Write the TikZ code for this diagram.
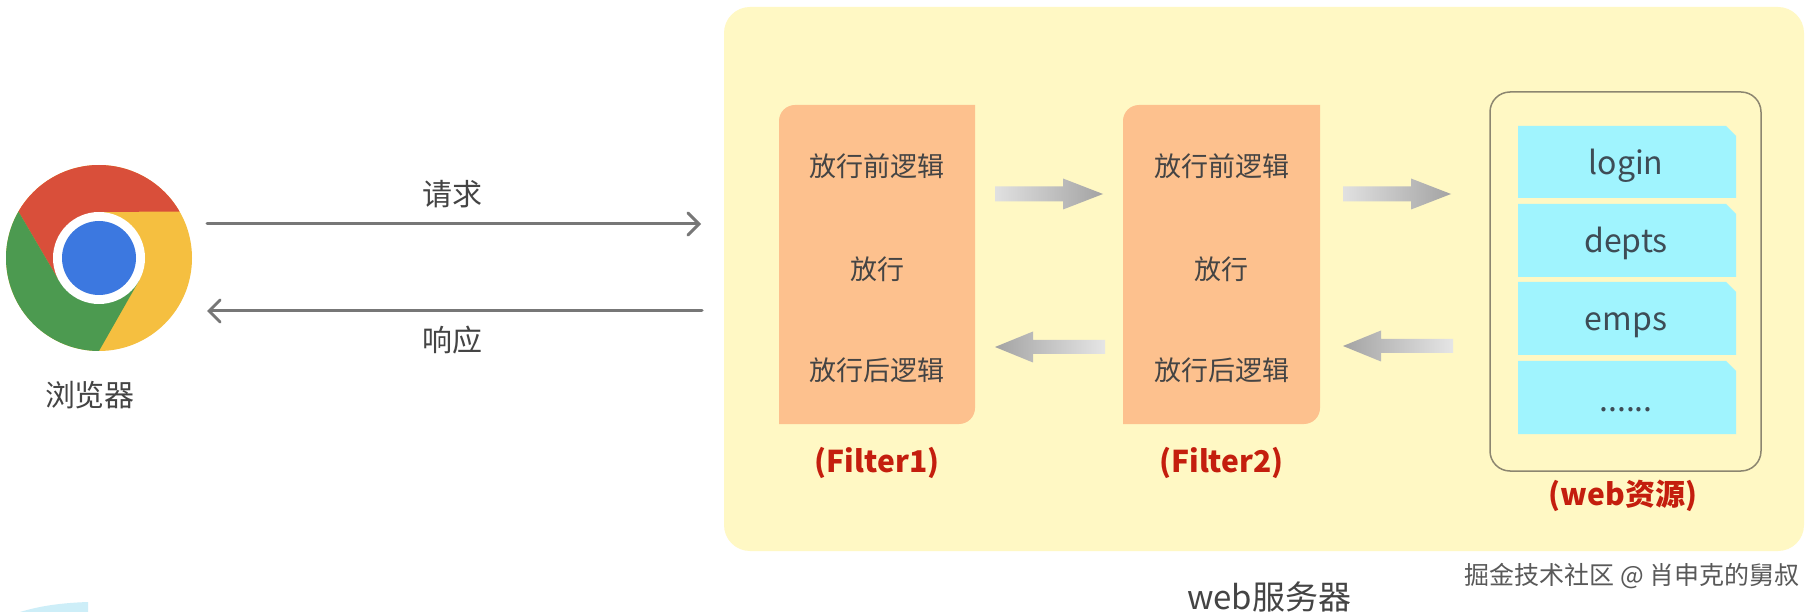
\documentclass[tikz,border=0pt]{standalone}
\usepackage{fontspec}
\setmainfont{Noto Sans CJK SC}
\usetikzlibrary{arrows.meta}
\definecolor{bgyellow}{HTML}{FFF8C4}
\definecolor{peach}{HTML}{FDC18E}
\definecolor{cyanbox}{HTML}{A0F4FE}
\definecolor{txtgray}{HTML}{444444}
\definecolor{resgray}{HTML}{3E4C56}
\definecolor{fred}{HTML}{C41E0E}
\definecolor{outl}{HTML}{8C8670}
\definecolor{chred}{HTML}{D94F3A}
\definecolor{chyellow}{HTML}{F5BF40}
\definecolor{chgreen}{HTML}{4C9A50}
\definecolor{chblue}{HTML}{3C78E0}
\definecolor{blob}{HTML}{CDEEF8}
\definecolor{linegray}{HTML}{777777}
\begin{document}
\begin{tikzpicture}[x=1pt,y=-1pt,
  lbl/.style={font=\fontsize{28}{32}\selectfont, text=txtgray, inner sep=0pt},
  flbl/.style={font=\fontsize{27}{30}\selectfont, text=txtgray, inner sep=0pt},
  rlbl/.style={font=\fontsize{32}{36}\selectfont, text=resgray, inner sep=0pt, anchor=base},
  redlbl/.style={font=\bfseries\fontsize{30}{34}\selectfont, text=fred, inner sep=0pt},
  thinarrow/.style={draw=linegray, line width=3pt, line cap=round, -{Straight Barb[length=11pt,width=22pt,line cap=round]}},
  fatR/.pic={\shade[left color=black!12, right color=black!36] (0,-7.5) -- (68,-7.5) -- (68,-15.5) -- (108,0) -- (68,15.5) -- (68,7.5) -- (0,7.5) -- cycle;},
  fatL/.pic={\shade[left color=black!36, right color=black!10] (0,0) -- (38,-15.5) -- (38,-7) -- (110,-7) -- (110,7) -- (38,7) -- (38,15.5) -- cycle;},
]
\useasboundingbox (0,0) rectangle (1816,612);
\fill[white] (0,0) rectangle (1816,612);

% web server background
\node[fill=bgyellow, rounded corners=26pt, minimum width=1080pt, minimum height=544pt, inner sep=0pt] (server) at (1264,279) {};

% Chrome logo
\coordinate (chc) at (99,258);
\fill[chyellow] (chc) circle[radius=93];
\fill[chred] (chc) -- (99,212) -- (179.54,211.5) arc[start angle=-30, end angle=-150, radius=93] -- (59.16,281) -- cycle;
\fill[chgreen] (chc) -- (59.16,281) -- (18.46,211.5) arc[start angle=210, end angle=90, radius=93] -- (138.84,281) -- cycle;
\fill[white] (chc) circle[radius=46];
\fill[chblue] (chc) circle[radius=37];
\node[lbl, font=\fontsize{30}{34}\selectfont] (browser) at (90,395) {浏览器};

% request / response
\coordinate (reqS) at (207,224);
\coordinate (reqE) at (701,224);
\coordinate (resS) at (702,311);
\coordinate (resE) at (207,311);
\draw[thinarrow] (reqS) -- (reqE);
\draw[thinarrow] (resS) -- (resE);
\node[lbl, font=\fontsize{30}{34}\selectfont] (req) at (452,194) {请求};
\node[lbl, font=\fontsize{30}{34}\selectfont] (res) at (452,340) {响应};

% filter boxes
\foreach \xa/\xb in {779/975, 1123/1320}{
  \fill[peach] (\xa,424) -- (\xa,121) arc[start angle=180, end angle=270, radius=16] -- (\xb,105) -- (\xb,408) arc[start angle=0, end angle=90, radius=16] -- cycle;
}
\node[flbl] (f1a) at (877,166) {放行前逻辑};
\node[flbl] (f1b) at (877,269) {放行};
\node[flbl] (f1c) at (877,370) {放行后逻辑};
\node[flbl] (f2a) at (1221.5,166) {放行前逻辑};
\node[flbl] (f2b) at (1221.5,269) {放行};
\node[flbl] (f2c) at (1221.5,370) {放行后逻辑};
\node[redlbl] (f1name) at (877,463) {(Filter1)};
\node[redlbl] (f2name) at (1221.5,463) {(Filter2)};

% fat arrows
\pic at (995,194) {fatR};
\pic at (1343,194) {fatR};
\pic at (995,347) {fatL};
\pic at (1343,346) {fatL};

% web resources
\draw[outl, line width=1.5pt, rounded corners=20pt] (1490,92) rectangle (1761,471);
\foreach \ya/\yb in {126/198, 204/277, 282/355, 361/434}{
  \fill[cyanbox] (1518,\ya) -- (1726,\ya) -- (1736,\ya+10) -- (1736,\yb) -- (1518,\yb) -- cycle;
}
\node[rlbl] (login) at (1626,175) {login};
\node[rlbl] (depts) at (1626,253) {depts};
\node[rlbl] (emps) at (1626,331) {emps};
\node[rlbl] (dots) at (1626,411) {......};
\node[redlbl] (resname) at (1623,496) {(web资源)};

\node[lbl, font=\fontsize{33}{36}\selectfont] (servername) at (1269,597) {web服务器};
\node[font=\fontsize{25}{28}\selectfont, text=black!65, inner sep=0pt] (mark) at (1632,576) {掘金技术社区 @ 肖申克的舅叔};

% partial blob
\fill[blob] (20,612) .. controls (40,606) and (60,603) .. (88,602) -- (88,612) -- cycle;
\end{tikzpicture}
\end{document}
